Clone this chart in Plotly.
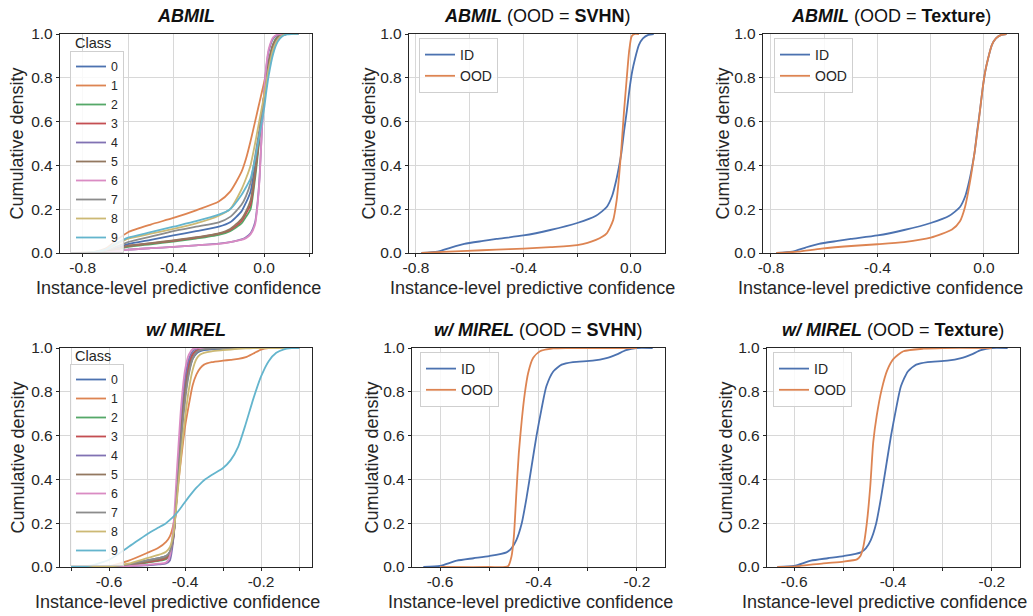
import plotly.graph_objects as go

# ---------------- data ----------------
CLASS_NAMES = ["0", "1", "2", "3", "4", "5", "6", "7", "8", "9"]
CLASS_COLORS = ["#4C72B0", "#DD8452", "#55A868", "#C44E52", "#8172B3",
                "#937860", "#DA8BC3", "#8C8C8C", "#CCB974", "#64B5CD"]
ID_COLOR = "#4C72B0"
OOD_COLOR = "#DD8452"

# ABMIL, per-class CDFs (shared x grid)
X_ABMIL = [-0.85, -0.75, -0.7, -0.65, -0.6, -0.5, -0.4, -0.3, -0.2, -0.15, -0.1, -0.08,
           -0.06, -0.04, -0.03, -0.02, -0.01, 0.0, 0.01, 0.02, 0.04, 0.06, 0.08, 0.1, 0.12, 0.15]
ABMIL_C0 = [0, 0.002, 0.008, 0.022, 0.04, 0.06, 0.08, 0.10, 0.12, 0.14, 0.19, 0.23,
            0.28, 0.40, 0.475, 0.55, 0.63, 0.71, 0.78, 0.85, 0.94, 0.98, 0.996, 1, 1, 1]
ABMIL_C1 = [0, 0.005, 0.02, 0.06, 0.095, 0.13, 0.16, 0.195, 0.235, 0.28, 0.37, 0.43,
            0.51, 0.60, 0.645, 0.69, 0.735, 0.78, 0.83, 0.88, 0.95, 0.985, 0.997, 1, 1, 1]
ABMIL_C2 = [0, 0.002, 0.005, 0.015, 0.028, 0.04, 0.052, 0.066, 0.083, 0.10, 0.135, 0.165,
            0.20, 0.34, 0.43, 0.53, 0.63, 0.72, 0.80, 0.87, 0.955, 0.99, 1, 1, 1, 1]
ABMIL_C3 = [0, 0.002, 0.006, 0.018, 0.032, 0.044, 0.056, 0.07, 0.088, 0.105, 0.145, 0.18,
            0.22, 0.36, 0.45, 0.545, 0.635, 0.72, 0.795, 0.86, 0.95, 0.985, 0.998, 1, 1, 1]
ABMIL_C4 = [0, 0.001, 0.003, 0.008, 0.015, 0.022, 0.028, 0.035, 0.043, 0.05, 0.062, 0.072,
            0.09, 0.14, 0.22, 0.35, 0.56, 0.73, 0.85, 0.92, 0.98, 0.997, 1, 1, 1, 1]
ABMIL_C5 = [0, 0.002, 0.006, 0.018, 0.033, 0.045, 0.058, 0.072, 0.09, 0.11, 0.155, 0.19,
            0.24, 0.37, 0.455, 0.545, 0.635, 0.72, 0.79, 0.86, 0.95, 0.985, 0.998, 1, 1, 1]
ABMIL_C6 = [0, 0.001, 0.003, 0.008, 0.015, 0.022, 0.028, 0.035, 0.042, 0.05, 0.06, 0.068,
            0.085, 0.13, 0.21, 0.34, 0.56, 0.74, 0.86, 0.93, 0.985, 0.998, 1, 1, 1, 1]
ABMIL_C7 = [0, 0.003, 0.01, 0.03, 0.05, 0.075, 0.10, 0.12, 0.14, 0.165, 0.22, 0.26,
            0.32, 0.44, 0.505, 0.57, 0.64, 0.71, 0.78, 0.84, 0.93, 0.975, 0.994, 1, 1, 1]
ABMIL_C8 = [0, 0.004, 0.014, 0.04, 0.065, 0.088, 0.11, 0.135, 0.17, 0.20, 0.29, 0.34,
            0.40, 0.50, 0.555, 0.61, 0.665, 0.72, 0.78, 0.84, 0.93, 0.975, 0.993, 0.999, 1, 1]
ABMIL_C9 = [0, 0.004, 0.015, 0.045, 0.07, 0.095, 0.12, 0.145, 0.175, 0.20, 0.265, 0.30,
            0.34, 0.43, 0.485, 0.54, 0.60, 0.66, 0.74, 0.81, 0.91, 0.965, 0.99, 0.998, 1, 1]

# ABMIL, ID vs OOD
ABMIL_ID_X = [-0.78, -0.72, -0.67, -0.62, -0.55, -0.5, -0.4, -0.3, -0.2, -0.13, -0.09, -0.07,
              -0.055, -0.045, -0.035, -0.025, -0.015, -0.005, 0.005, 0.015, 0.03, 0.045, 0.065, 0.085]
ABMIL_ID_Y = [0, 0.006, 0.025, 0.042, 0.055, 0.064, 0.08, 0.105, 0.137, 0.17, 0.21, 0.26,
              0.33, 0.39, 0.46, 0.56, 0.65, 0.75, 0.83, 0.885, 0.95, 0.98, 0.996, 1.0]
ABMIL_SVHN_X = [-0.78, -0.7, -0.61, -0.5, -0.4, -0.3, -0.2, -0.13, -0.09, -0.066, -0.053,
                -0.044, -0.035, -0.026, -0.016, -0.006, 0.003, 0.015, 0.03]
ABMIL_SVHN_Y = [0, 0.005, 0.01, 0.015, 0.02, 0.027, 0.036, 0.06, 0.09, 0.15, 0.24,
                0.35, 0.485, 0.64, 0.79, 0.927, 0.99, 1.0, 1.0]
ABMIL_TEX_X = [-0.78, -0.7, -0.61, -0.485, -0.4, -0.3, -0.2, -0.12, -0.09, -0.071, -0.053,
               -0.034, -0.019, -0.005, 0.005, 0.015, 0.03, 0.045, 0.065, 0.085]
ABMIL_TEX_Y = [0, 0.006, 0.02, 0.033, 0.04, 0.05, 0.07, 0.107, 0.145, 0.21, 0.32,
               0.47, 0.607, 0.75, 0.83, 0.885, 0.95, 0.98, 0.996, 1.0]

# w/ MIREL, per-class CDFs (shared x grid)
X_MIREL = [-0.7, -0.65, -0.6, -0.55, -0.5, -0.47, -0.45, -0.44, -0.43, -0.42, -0.41, -0.40,
           -0.39, -0.38, -0.37, -0.36, -0.35, -0.33, -0.30, -0.28, -0.26, -0.24, -0.22, -0.20,
           -0.18, -0.16, -0.14, -0.12, -0.10]
MIREL_C0 = [0, 0, 0.002, 0.012, 0.03, 0.04, 0.05, 0.068, 0.15, 0.37, 0.60, 0.78,
            0.89, 0.95, 0.975, 0.985, 0.99, 0.994, 0.996, 0.998, 1, 1, 1, 1, 1, 1, 1, 1, 1]
MIREL_C1 = [0, 0, 0.004, 0.028, 0.064, 0.088, 0.115, 0.14, 0.20, 0.35, 0.50, 0.64,
            0.74, 0.83, 0.88, 0.908, 0.924, 0.935, 0.942, 0.946, 0.95, 0.958, 0.975, 0.993,
            1, 1, 1, 1, 1]
MIREL_C2 = [0, 0, 0.001, 0.008, 0.02, 0.028, 0.036, 0.055, 0.15, 0.40, 0.65, 0.83,
            0.93, 0.975, 0.99, 0.996, 0.998, 1, 1, 1, 1, 1, 1, 1, 1, 1, 1, 1, 1]
MIREL_C3 = [0, 0, 0.002, 0.01, 0.022, 0.03, 0.04, 0.06, 0.14, 0.38, 0.63, 0.82,
            0.92, 0.97, 0.988, 0.995, 0.998, 1, 1, 1, 1, 1, 1, 1, 1, 1, 1, 1, 1]
MIREL_C4 = [0, 0, 0, 0.003, 0.008, 0.012, 0.016, 0.03, 0.14, 0.42, 0.68, 0.86,
            0.95, 0.985, 0.997, 1, 1, 1, 1, 1, 1, 1, 1, 1, 1, 1, 1, 1, 1]
MIREL_C5 = [0, 0, 0.001, 0.01, 0.025, 0.035, 0.045, 0.065, 0.15, 0.38, 0.62, 0.80,
            0.90, 0.955, 0.98, 0.99, 0.995, 0.998, 1, 1, 1, 1, 1, 1, 1, 1, 1, 1, 1]
MIREL_C6 = [0, 0, 0, 0.004, 0.01, 0.015, 0.02, 0.05, 0.20, 0.48, 0.74, 0.90,
            0.97, 0.995, 1, 1, 1, 1, 1, 1, 1, 1, 1, 1, 1, 1, 1, 1, 1]
MIREL_C7 = [0, 0, 0.002, 0.012, 0.03, 0.04, 0.05, 0.07, 0.15, 0.36, 0.58, 0.76,
            0.88, 0.95, 0.98, 0.99, 0.995, 0.998, 1, 1, 1, 1, 1, 1, 1, 1, 1, 1, 1]
MIREL_C8 = [0, 0, 0.002, 0.015, 0.04, 0.055, 0.07, 0.09, 0.16, 0.33, 0.52, 0.68,
            0.81, 0.90, 0.95, 0.97, 0.978, 0.985, 0.99, 0.993, 0.996, 0.998, 1, 1, 1, 1, 1, 1, 1]
MIREL_C9 = [0, 0.006, 0.033, 0.09, 0.15, 0.18, 0.20, 0.215, 0.231, 0.25, 0.273, 0.297,
            0.32, 0.342, 0.362, 0.38, 0.396, 0.42, 0.452, 0.488, 0.55, 0.655, 0.77, 0.87,
            0.94, 0.978, 0.994, 0.999, 1]

# w/ MIREL, ID vs OOD
MIREL_ID_X = [-0.634, -0.6, -0.566, -0.532, -0.5, -0.465, -0.455, -0.445, -0.434, -0.424, -0.414,
              -0.404, -0.394, -0.384, -0.37, -0.353, -0.33, -0.29, -0.262, -0.242, -0.222, -0.201, -0.168]
MIREL_ID_Y = [0, 0.005, 0.029, 0.04, 0.05, 0.067, 0.085, 0.123, 0.20, 0.32, 0.46,
              0.60, 0.72, 0.825, 0.893, 0.924, 0.936, 0.942, 0.954, 0.97, 0.99, 1.0, 1.0]
MIREL_SVHN_X = [-0.6, -0.5, -0.462, -0.455, -0.45, -0.445, -0.44, -0.434, -0.428, -0.421, -0.411,
                -0.397, -0.37, -0.34, -0.2]
MIREL_SVHN_Y = [0, 0, 0.003, 0.047, 0.14, 0.337, 0.52, 0.67, 0.79, 0.886, 0.954,
                0.985, 0.998, 1.0, 1.0]
MIREL_TEX_X = [-0.634, -0.595, -0.541, -0.5, -0.473, -0.466, -0.46, -0.453, -0.446, -0.44, -0.433,
               -0.423, -0.412, -0.399, -0.379, -0.338, -0.298, -0.2]
MIREL_TEX_Y = [0, 0.003, 0.017, 0.025, 0.035, 0.05, 0.093, 0.2, 0.37, 0.57, 0.69,
               0.81, 0.897, 0.95, 0.985, 0.997, 1.0, 1.0]

Y_TICKS = [0, 0.2, 0.4, 0.6, 0.8, 1.0]
Y_TICKTEXT = ["0.0", "0.2", "0.4", "0.6", "0.8", "1.0"]
TOP_XTICKS = [-0.8, -0.6, -0.4, -0.2, 0.0, 0.2]
TOP_XTICKTEXT = ["-0.8", "", "-0.4", "", "0.0", ""]
P4_XTICKS = [-0.7, -0.6, -0.5, -0.4, -0.3, -0.2, -0.1]
P4_XTICKTEXT = ["", "-0.6", "", "-0.4", "", "-0.2", ""]
P56_XTICKS = [-0.6, -0.5, -0.4, -0.3, -0.2]
P56_XTICKTEXT = ["-0.6", "", "-0.4", "", "-0.2"]

TITLES = [
    "<b><i>ABMIL</i></b>",
    "<b><i>ABMIL</i></b> (OOD = <b>SVHN</b>)",
    "<b><i>ABMIL</i></b> (OOD = <b>Texture</b>)",
    "<b><i>w/ MIREL</i></b>",
    "<b><i>w/ MIREL</i></b> (OOD = <b>SVHN</b>)",
    "<b><i>w/ MIREL</i></b> (OOD = <b>Texture</b>)",
]
X_TITLE = "Instance-level predictive confidence"
Y_TITLE = "Cumulative density"

# ---------------- layout geometry (window pixels) ----------------
W, H = 1033, 616
FONT = "Liberation Sans, Arial, sans-serif"
TXT = "#262626"
# plot areas: (left, right, top, bottom)
BOXES = [(60, 312, 34, 253), (409, 665, 34, 253), (763, 1018, 34, 253),
         (60, 312, 348, 567), (412, 665, 348, 567), (767, 1020, 348, 567)]
XRANGES = [[-0.90, 0.211], [-0.826, 0.127], [-0.83, 0.128],
           [-0.729, -0.066], [-0.657, -0.143], [-0.655, -0.143]]
XTICKS = [(TOP_XTICKS, TOP_XTICKTEXT)] * 3 + [(P4_XTICKS, P4_XTICKTEXT),
                                              (P56_XTICKS, P56_XTICKTEXT),
                                              (P56_XTICKS, P56_XTICKTEXT)]
YTITLE_X = [17, 369, 723, 17, 371, 725]
XTITLE_X = [178, 532.5, 880, 177, 530, 884]


def fx(px):
    return px / W


def fy(py):
    return 1 - py / H


fig = go.Figure()


def add_line(i, x, y, name, color, show):
    sfx = "" if i == 1 else str(i)
    fig.add_trace(go.Scatter(
        x=x, y=y, mode="lines", name=name,
        line=dict(color=color, width=1.8, shape="spline", smoothing=0.6),
        xaxis="x" + sfx, yaxis="y" + sfx,
        legend="legend" + sfx, showlegend=show, hoverinfo="skip"))


abmil_classes = [ABMIL_C0, ABMIL_C1, ABMIL_C2, ABMIL_C3, ABMIL_C4,
                 ABMIL_C5, ABMIL_C6, ABMIL_C7, ABMIL_C8, ABMIL_C9]
mirel_classes = [MIREL_C0, MIREL_C1, MIREL_C2, MIREL_C3, MIREL_C4,
                 MIREL_C5, MIREL_C6, MIREL_C7, MIREL_C8, MIREL_C9]

for k, ys in enumerate(abmil_classes):
    add_line(1, X_ABMIL, ys, CLASS_NAMES[k], CLASS_COLORS[k], True)
add_line(2, ABMIL_ID_X, ABMIL_ID_Y, "ID", ID_COLOR, True)
add_line(2, ABMIL_SVHN_X, ABMIL_SVHN_Y, "OOD", OOD_COLOR, True)
add_line(3, ABMIL_ID_X, ABMIL_ID_Y, "ID", ID_COLOR, True)
add_line(3, ABMIL_TEX_X, ABMIL_TEX_Y, "OOD", OOD_COLOR, True)
for k, ys in enumerate(mirel_classes):
    add_line(4, X_MIREL, ys, CLASS_NAMES[k], CLASS_COLORS[k], True)
add_line(5, MIREL_ID_X, MIREL_ID_Y, "ID", ID_COLOR, True)
add_line(5, MIREL_SVHN_X, MIREL_SVHN_Y, "OOD", OOD_COLOR, True)
add_line(6, MIREL_ID_X, MIREL_ID_Y, "ID", ID_COLOR, True)
add_line(6, MIREL_TEX_X, MIREL_TEX_Y, "OOD", OOD_COLOR, True)

layout = dict(
    width=W, height=H, autosize=False,
    margin=dict(l=0, r=0, t=0, b=0, pad=0, autoexpand=False),
    paper_bgcolor="white", plot_bgcolor="white",
    font=dict(family=FONT, color=TXT, size=15),
)
axis_common = dict(
    showgrid=True, gridcolor="#d8d8d8", gridwidth=1, zeroline=False,
    showline=True, mirror=True, linecolor="#262626", linewidth=1.3,
    ticks="outside", ticklen=3, tickwidth=1.1, tickcolor="#262626",
    tickfont=dict(family=FONT, size=15.5, color=TXT), fixedrange=True,
    automargin=False,
)
annotations = []
for i in range(1, 7):
    l, r, t, b = BOXES[i - 1]
    sfx = "" if i == 1 else str(i)
    tv, tt = XTICKS[i - 1]
    layout["xaxis" + sfx] = dict(axis_common, domain=[fx(l), fx(r)], range=XRANGES[i - 1],
                                 anchor="y" + sfx, tickmode="array", tickvals=tv, ticktext=tt,
                                 ticklabelstandoff=-3)
    layout["yaxis" + sfx] = dict(axis_common, domain=[fy(b), fy(t)], range=[0, 1],
                                 anchor="x" + sfx, tickmode="array", tickvals=Y_TICKS,
                                 ticktext=Y_TICKTEXT)
    cx = (l + r) / 2
    annotations.append(dict(text=TITLES[i - 1], x=fx(cx), y=fy(t - 18), xref="paper", yref="paper",
                            xanchor="center", yanchor="middle", showarrow=False,
                            font=dict(family=FONT, size=18, color="#111111")))
    annotations.append(dict(text=X_TITLE, x=fx(XTITLE_X[i - 1]), y=fy(b + 35), xref="paper",
                            yref="paper", xanchor="center", yanchor="middle", showarrow=False,
                            font=dict(family=FONT, size=18, color=TXT)))
    annotations.append(dict(text=Y_TITLE, x=fx(YTITLE_X[i - 1]), y=fy((t + b) / 2),
                            xref="paper", yref="paper", xanchor="center", yanchor="middle",
                            textangle=-90, showarrow=False,
                            font=dict(family=FONT, size=18, color=TXT)))

legend_common = dict(xanchor="left", yanchor="top", bgcolor="rgba(255,255,255,0.85)",
                     bordercolor="#cfcfcf", borderwidth=1, tracegroupgap=0)
# legend top-left corners in pixels, and font sizes
LEG_POS = [(70, 51), (419, 38), (774, 38), (70, 364), (420, 352), (773, 352)]
LEG_FONT = [12.3, 14, 14, 12.3, 14, 14]
for i in range(1, 7):
    sfx = "" if i == 1 else str(i)
    lx, ly = LEG_POS[i - 1]
    layout["legend" + sfx] = dict(legend_common, x=fx(lx), y=fy(ly),
                                  font=dict(family=FONT, size=LEG_FONT[i - 1], color=TXT))

# "Class" legend headings
for (lx, ly) in [(93, 43), (93, 356)]:
    annotations.append(dict(text="Class", x=fx(lx), y=fy(ly), xref="paper", yref="paper",
                            xanchor="center", yanchor="middle", showarrow=False,
                            font=dict(family=FONT, size=14.5, color=TXT)))

layout["annotations"] = annotations
fig.update_layout(**layout)
fig.write_html(
    "out.html",
    config={"displayModeBar": False},
    post_script="document.body.style.margin='0px';"
                "document.documentElement.style.overflow='hidden';",
)
